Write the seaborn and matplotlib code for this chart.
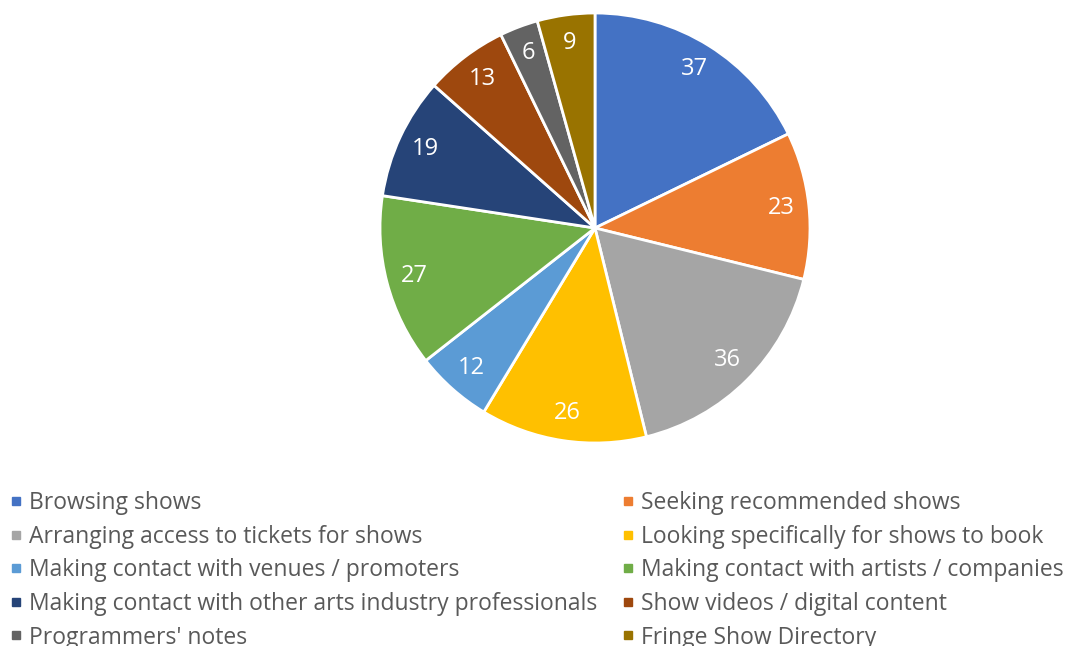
import matplotlib
matplotlib.use("Agg")
import matplotlib.pyplot as plt
from matplotlib.lines import Line2D
import seaborn as sns

categories = [
    "Browsing shows",
    "Seeking recommended shows",
    "Arranging access to tickets for shows",
    "Looking specifically for shows to book",
    "Making contact with venues / promoters",
    "Making contact with artists / companies",
    "Making contact with other arts industry professionals",
    "Show videos / digital content",
    "Programmers' notes",
    "Fringe Show Directory",
]
counts = [37, 23, 36, 26, 12, 27, 19, 13, 6, 9]
colors = ["#4472C4", "#ED7D31", "#A5A5A5", "#FFC000", "#5B9BD5",
          "#70AD47", "#264478", "#9E480E", "#636363", "#997300"]

sns.set_theme(style="white")
plt.rcParams["font.family"] = ["Open Sans", "DejaVu Sans"]

W, H = 1073, 646
fig = plt.figure(figsize=(W / 100, H / 100), dpi=100)
fig.patch.set_facecolor("white")

# pie centred at (595, 228) px with a radius of 215 px
cx, cy, r = 595, 228, 215
ax = fig.add_axes([(cx - r) / W, (H - cy - r) / H, 2 * r / W, 2 * r / H])
wedges, texts = ax.pie(
    counts,
    colors=colors,
    startangle=90,
    counterclock=False,
    labels=[str(c) for c in counts],
    labeldistance=0.87,
    wedgeprops=dict(edgecolor="white", linewidth=2),
    textprops=dict(color="white", fontsize=17),
)
for t in texts:
    t.set_horizontalalignment("center")
    t.set_verticalalignment("center")
ax.set_xlim(-1, 1)
ax.set_ylim(-1, 1)
ax.set_aspect("equal")
ax.axis("off")

# legend in two columns, filled row by row
def make_handles(idx):
    return [Line2D([0], [0], marker="s", linestyle="none", markersize=6,
                   markerfacecolor=colors[i], markeredgecolor=colors[i])
            for i in idx]

left_idx = [0, 2, 4, 6, 8]
right_idx = [1, 3, 5, 7, 9]
common = dict(frameon=False, fontsize=16.5, labelcolor="#595959",
              handlelength=0.55, handletextpad=0.3, labelspacing=0.42,
              borderaxespad=0, borderpad=0, loc="upper left")
leg1 = fig.legend(make_handles(left_idx), [categories[i] for i in left_idx],
                  bbox_to_anchor=(10 / W, 1 - 491 / H), **common)
leg2 = fig.legend(make_handles(right_idx), [categories[i] for i in right_idx],
                  bbox_to_anchor=(622 / W, 1 - 491 / H), **common)

fig.savefig("out.png", dpi=100, facecolor="white")
